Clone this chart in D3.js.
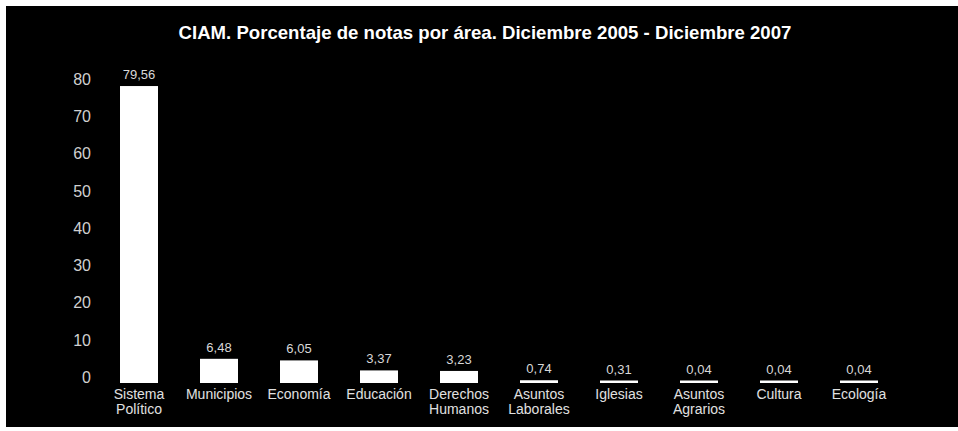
<!DOCTYPE html>
<html>
<head>
<meta charset="utf-8">
<script src="https://cdn.jsdelivr.net/npm/d3@7"></script>
<style>
  html, body { margin: 0; padding: 0; background: #ffffff; }
  svg { display: block; }
  text { font-family: "Liberation Sans", Arial, Helvetica, sans-serif; }
</style>
</head>
<body>
<svg id="chart" width="958" height="431"></svg>
<script>
const categories = [
  ["Sistema", "Político"],
  ["Municipios"],
  ["Economía"],
  ["Educación"],
  ["Derechos", "Humanos"],
  ["Asuntos", "Laborales"],
  ["Iglesias"],
  ["Asuntos", "Agrarios"],
  ["Cultura"],
  ["Ecología"]
];
const values = [79.56, 6.48, 6.05, 3.37, 3.23, 0.74, 0.31, 0.04, 0.04, 0.04];
const valueLabels = ["79,56", "6,48", "6,05", "3,37", "3,23", "0,74", "0,31", "0,04", "0,04", "0,04"];
const yTicks = [0, 10, 20, 30, 40, 50, 60, 70, 80];
const title = "CIAM. Porcentaje de notas por área. Diciembre 2005 - Diciembre 2007";

const svg = d3.select("#chart");
const W = 958, H = 431;

svg.append("rect")
  .attr("x", 6).attr("y", 6)
  .attr("width", W - 6).attr("height", 421)
  .attr("fill", "#000");

const keys = categories.map(c => c.join(" "));
const x = d3.scaleBand()
  .domain(keys)
  .range([99, 899])
  .paddingInner(0.525)
  .paddingOuter(0.2625);

const y = d3.scaleLinear()
  .domain([0, 80])
  .range([383, 84.4]);

// title
svg.append("text")
  .attr("x", 485).attr("y", 39)
  .attr("text-anchor", "middle")
  .attr("fill", "#fff")
  .attr("font-size", 18.6)
  .attr("font-weight", "bold")
  .text(title);

// y axis
const yAxis = d3.axisLeft(y).tickValues(yTicks).tickSize(0).tickPadding(0);
const gy = svg.append("g").attr("transform", "translate(91,-5.5)").call(yAxis);
gy.select(".domain").remove();
gy.selectAll("text")
  .attr("fill", "#d0d0d0")
  .attr("font-size", 16)
  .style("font-family", "'Liberation Sans', Arial, sans-serif");

// bars
svg.selectAll("rect.bar")
  .data(values)
  .join("rect")
  .attr("class", "bar")
  .attr("x", (d, i) => x(keys[i]))
  .attr("width", x.bandwidth())
  .attr("y", d => Math.min(y(d), y(0) - 2.5))
  .attr("height", d => Math.max(y(0) - y(d), 2.5))
  .attr("fill", "#fff");

// value labels
svg.selectAll("text.val")
  .data(values)
  .join("text")
  .attr("class", "val")
  .attr("x", (d, i) => x(keys[i]) + x.bandwidth() / 2)
  .attr("y", d => Math.min(y(d), y(0) - 2.5) - 7)
  .attr("text-anchor", "middle")
  .attr("fill", "#d8d8d8")
  .attr("font-size", 13)
  .text((d, i) => valueLabels[i]);

// x axis labels
const xAxis = d3.axisBottom(x).tickSize(0).tickPadding(0).tickFormat(() => "");
const gx = svg.append("g").attr("transform", "translate(0,383)").call(xAxis);
gx.select(".domain").remove();
gx.selectAll(".tick").each(function(d, i) {
  const t = d3.select(this).select("text")
    .attr("fill", "#e0e0e0")
    .attr("font-size", 14)
    .attr("dy", null)
    .attr("y", 0);
  categories[i].forEach((line, j) => {
    t.append("tspan")
      .attr("x", 0)
      .attr("y", 16 + j * 15)
      .text(line);
  });
});
</script>
</body>
</html>
